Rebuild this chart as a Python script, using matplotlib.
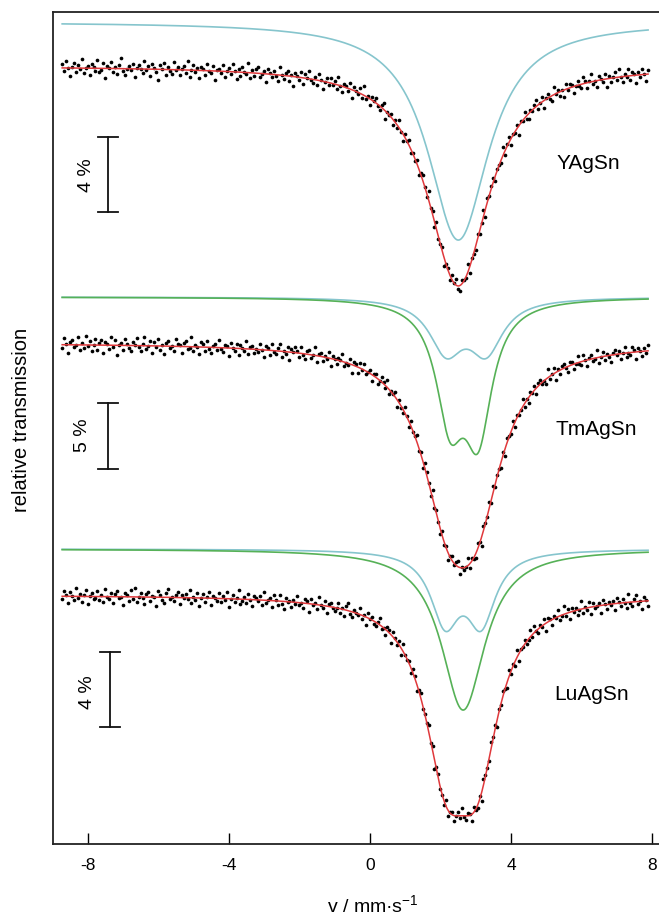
import numpy as np
import matplotlib
matplotlib.use("Agg")
import matplotlib.pyplot as plt

plt.rcParams['font.family'] = ['Liberation Sans', 'DejaVu Sans']
plt.rcParams['mathtext.fontset'] = 'custom'
plt.rcParams['mathtext.rm'] = 'Liberation Sans'
plt.rcParams['mathtext.it'] = 'Liberation Sans:italic'

# ---------------- data ----------------
samples = ["YAgSn", "TmAgSn", "LuAgSn"]
scale_labels = ["4 %", "5 %", "4 %"]
scale_percent = [4, 5, 4]
x_ticks = [-8, -4, 0, 4, 8]

# Velocity range of the measured channels (mm/s)
v_first, v_last, n_channels = -8.73, 7.88, 300

# Fitted lines: (centre mm/s, HWHM mm/s, depth %)
fit_Y_total = [(2.50, 1.049, 11.73)]
fit_Y_sub1 = [(2.50, 1.049, 11.63)]
fit_Tm_total = [(2.211, 0.907, 10.15), (3.005, 0.907, 10.15)]
fit_Tm_sub1 = [(2.155, 0.581, 3.86), (3.289, 0.581, 3.86)]
fit_Tm_sub2 = [(2.268, 0.482, 8.48), (3.062, 0.482, 9.53)]
fit_Lu_total = [(2.155, 0.737, 7.98), (3.034, 0.737, 7.98)]
fit_Lu_sub1 = [(2.127, 0.496, 3.68), (3.147, 0.496, 3.68)]
fit_Lu_sub2 = [(2.637, 0.751, 8.59)]

# Residuals of the measured points from the fit (units of 0.07 %)
resid_Y = [3,-2,5,0,-6,1,4,-3,2,-1,7,-4,0,2,-5,3,1,-2,6,-3,
-1,4,-7,2,0,5,-3,1,-4,3,8,-2,-5,0,2,-1,4,-6,1,3,
0,-3,6,-1,2,-5,4,1,-2,-8,3,0,5,-4,2,-1,-3,6,0,2,
-4,1,3,-2,7,-5,0,4,-1,2,-6,3,1,-3,5,0,-2,4,-7,1,
2,-1,5,-4,0,3,-2,6,1,-5,2,-3,4,0,-1,7,-4,2,-2,3,
5,-3,0,2,-6,4,1,-2,3,-1,-5,6,0,-3,2,4,-4,1,-7,3,
1,-2,4,-5,3,0,6,-1,-3,2,-4,5,1,-6,0,3,-2,4,-1,2,
-3,6,0,-4,2,1,-2,5,-6,3,0,-1,4,-3,7,-2,1,-5,2,0,
4,-1,-3,2,5,-6,1,0,3,-4,2,-2,6,-1,-5,3,0,4,-3,1,
-2,3,-5,1,4,0,-3,7,-1,2,-4,5,-2,0,3,-6,1,2,-3,4,
0,5,-2,-4,3,1,-1,6,-5,2,0,-3,4,-2,1,5,-6,3,-1,2,
3,-4,1,0,-2,6,-3,2,4,-5,1,-1,3,-7,2,0,5,-2,-4,1,
-1,2,5,-3,0,4,-6,1,3,-2,-4,6,0,2,-3,1,-5,4,-1,3,
2,-5,0,3,-1,-3,5,2,-4,1,6,-2,0,-5,3,1,-2,4,-6,2,
-3,1,4,-2,6,0,-4,2,-1,5,-3,3,1,-6,2,-2,4,0,-5,3]
resid_Tm = [-4,7,1,-9,3,5,-2,0,8,-6,2,-3,10,-1,4,-7,0,6,-5,2,
5,-8,3,1,-4,9,-2,6,-10,0,3,-5,7,2,-3,-6,4,1,8,-2,
-6,2,9,-3,0,5,-8,4,-1,7,-4,1,-9,3,6,-2,0,-5,8,3,
1,-7,4,6,-3,-1,10,-5,2,0,-8,5,3,-4,7,-2,-6,1,4,-3,
8,-1,-5,3,2,-9,6,0,-3,5,-7,4,1,-2,9,-6,2,3,-4,0,
-3,6,0,-8,4,2,-5,7,-1,-4,3,8,-6,1,-2,5,-9,3,0,6,
2,-4,7,-1,-6,3,5,-3,0,9,-7,2,4,-5,1,-2,6,-8,3,0,
-5,3,1,8,-4,0,-2,6,-9,4,2,-6,5,-1,7,-3,0,4,-7,2,
4,-6,-1,5,2,-3,8,-5,1,0,6,-8,3,-2,-4,7,1,-6,5,-1,
0,7,-4,2,-8,5,3,-1,-6,9,-2,4,0,-5,6,-3,2,-7,1,5,
-2,4,6,-7,1,-3,0,8,-5,3,-1,-4,7,2,-9,5,0,-2,6,-4,
6,-3,2,0,-6,4,-8,5,1,-2,7,-5,3,-1,0,8,-4,2,-6,3,
-1,5,-7,3,4,-2,0,-5,9,-3,1,6,-8,2,-4,3,5,-1,-6,4,
3,-5,0,7,-2,-4,6,1,-7,2,4,-3,-1,8,-6,0,5,-4,2,-2,
-7,2,5,-1,3,-6,1,7,-4,0,-3,6,2,-8,4,1,-5,3,-2,6]
resid_Lu = [-2,4,1,-5,3,0,-3,6,-1,2,-4,1,5,-6,0,3,-2,-1,4,-3,
1,-4,6,0,-2,3,-5,2,4,-1,0,-6,3,1,-3,5,-2,7,-4,0,
3,-1,-5,2,4,-3,1,0,-7,5,2,-2,-4,3,6,-1,0,-3,2,4,
-5,2,0,3,-1,6,-4,1,-2,4,-6,0,3,-3,1,5,-5,2,0,-2,
4,-3,2,-1,5,-6,0,3,-2,1,7,-4,-1,2,-3,4,0,-5,3,1,
-1,3,-4,6,-2,0,2,-5,4,1,-3,5,-2,-6,3,0,1,-4,2,-1,
5,-2,0,-4,3,2,-6,4,-1,1,-3,6,0,-2,4,-5,2,3,-1,-3,
0,4,-3,1,-5,3,6,-2,-4,2,0,-1,5,-3,1,-6,4,0,2,-2,
-3,1,5,-2,0,-4,3,2,-6,4,1,-2,3,-5,6,0,-1,2,-4,3,
2,-5,1,4,-3,0,-1,5,-2,3,-7,2,4,-1,0,-3,5,-4,1,2,
-4,0,3,-2,6,-1,-3,2,1,-5,4,0,-2,3,-6,5,1,-1,-3,4,
1,3,-6,2,-1,4,0,-4,5,-2,2,-3,6,-5,1,0,3,-2,-1,5,
-2,5,0,-3,2,-1,4,-6,3,1,-4,2,0,5,-3,-1,6,-2,3,-5,
3,-1,2,-4,0,6,-3,1,-2,4,-5,3,-1,0,2,-6,4,1,-3,2,
-1,2,-5,4,1,-2,3,0,-4,6,-1,-3,2,5,-2,0,-6,3,1,-4]
resid_unit = 0.07

# ---------------- layout / style ----------------
W, H = 659, 918
RED, TEAL, GREEN = '#e0393c', '#86c5cd', '#56b157'
# baseline (axis units = px from bottom of axes) and px per percent
spec_layout = {
    "YAgSn":  dict(base=778, sub_base=822, scale=18.75),
    "TmAgSn": dict(base=501, sub_base=547, scale=13.2),
    "LuAgSn": dict(base=249, sub_base=295, scale=18.75),
}


def transmission(v, lines):
    t = np.full_like(v, 100.0)
    for c, w, d in lines:
        t -= d / (1.0 + ((v - c) / w) ** 2)
    return t


fig = plt.figure(figsize=(W / 100, H / 100), dpi=100)
ax = fig.add_axes([53 / W, 74 / H, 606 / W, 832 / H])
ax.set_xlim(-8.99, 8.19)
ax.set_ylim(0, 832)

vel = np.linspace(v_first, v_last, n_channels)
vf = np.linspace(v_first, v_last, 1500)

fits = {
    "YAgSn": (fit_Y_total, [(fit_Y_sub1, TEAL)], resid_Y),
    "TmAgSn": (fit_Tm_total, [(fit_Tm_sub1, TEAL), (fit_Tm_sub2, GREEN)], resid_Tm),
    "LuAgSn": (fit_Lu_total, [(fit_Lu_sub1, TEAL), (fit_Lu_sub2, GREEN)], resid_Lu),
}

for name in samples:
    total, subs, resid = fits[name]
    L = spec_layout[name]
    s = L['scale']
    for lines, col in subs:
        ax.plot(vf, L['sub_base'] + s * (transmission(vf, lines) - 100), color=col, lw=1.2, zorder=2)
    pts = transmission(vel, total) + resid_unit * np.array(resid)
    ax.scatter(vel, L['base'] + s * (pts - 100), s=7, c='black', lw=0, zorder=3)
    ax.plot(vf, L['base'] + s * (transmission(vf, total) - 100), color=RED, lw=1.1, zorder=4)

# scale bars
bars = [(-7.43, 707), (-7.43, 441), (-7.37, 192)]
lab_pos = [(-8.05, 669), (-8.14, 409), (-8.02, 152)]
for name, (bx, btop), lab, pct, (lx, ly) in zip(samples, bars, scale_labels, scale_percent, lab_pos):
    s = spec_layout[name]['scale']
    bbot = btop - pct * s
    ax.plot([bx, bx], [bbot, btop], color='#111111', lw=1.3)
    for yy in (bbot, btop):
        ax.plot([bx - 0.28, bx + 0.28], [yy, yy], color='#111111', lw=1.3)
    ax.text(lx, ly, lab, rotation=90, ha='center', va='center', fontsize=14)

# sample names
name_pos = [(6.18, 681), (6.41, 415), (6.29, 149)]
for name, (nx, ny) in zip(samples, name_pos):
    ax.text(nx, ny, name, ha='center', va='center', fontsize=15)

for sp in ['top', 'left', 'bottom']:
    ax.spines[sp].set_linewidth(1.3)
    ax.spines[sp].set_color('#222222')
ax.spines['right'].set_visible(False)
ax.set_yticks([])
ax.set_xticks(x_ticks)
ax.set_xticklabels([str(t) for t in x_ticks])
ax.tick_params(axis='x', direction='in', length=8, width=1.0, pad=10, labelsize=12.5, top=False)

fig.text(373 / W, 1 - 905 / H, r'v / mm·s$^{-1}$', ha='center', va='center', fontsize=14)
fig.text(22 / W, 1 - 420 / H, 'relative transmission', rotation=90, ha='center', va='center', fontsize=14.5)

fig.savefig('out.png', dpi=100)
